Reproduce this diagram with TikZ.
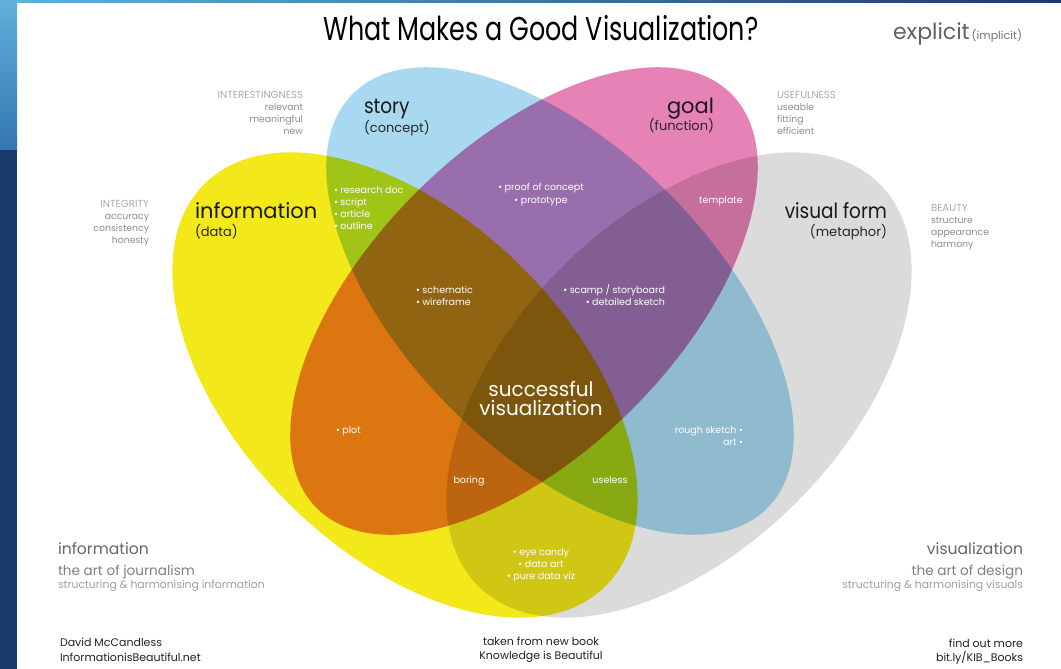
\documentclass[tikz,border=0pt]{standalone}
\usepackage{fontspec}
\setmainfont{Poppins}
\newfontfamily\titlefont{Poppins}[FakeStretch=0.77]
\newfontfamily\narrowfont{Poppins}[FakeStretch=0.88]
\newcommand{\fs}[1]{\fontsize{#1}{#1}\selectfont}
\definecolor{infoYellow}{RGB}{243,232,25}
\definecolor{storyBlue}{RGB}{168,217,241}
\definecolor{goalPink}{RGB}{231,130,182}
\definecolor{formGray}{RGB}{219,219,219}
\definecolor{frameLight}{RGB}{96,176,220}
\definecolor{frameMid}{RGB}{52,118,176}
\definecolor{frameNavy}{RGB}{26,58,106}
\definecolor{capGray}{RGB}{170,170,170}
\definecolor{sideGray}{RGB}{140,140,140}
\definecolor{footDark}{RGB}{34,34,34}
\begin{document}
\begin{tikzpicture}[x=1pt,y=-1pt,
  every node/.style={inner sep=0pt,outer sep=0pt},
  inlabel/.style={text=white,font=\fs{9.5}},
  sidecap/.style={text=capGray,font=\fs{10.2}},
  sideword/.style={text=sideGray,font=\fs{9.3}},
  setname/.style={text=black!90,font=\fs{21}},
  setsub/.style={text=black!85,font=\fs{13}},
  artname/.style={text=black!60,font=\fs{15.6}},
  artof/.style={text=black!50,font=\fs{13.6}},
  artdesc/.style={text=black!38,font=\fs{10.8}},
  footer/.style={text=footDark,font=\fs{11}}]
\useasboundingbox (0,0) rectangle (1061,669);

% page and frame
\fill[white] (0,0) rectangle (1061,669);
\shade[top color=frameLight,bottom color=frameMid] (0,0) rectangle (17,150);
\fill[frameNavy] (0,150) rectangle (17,669);
\shade[left color=frameLight,right color=frameNavy] (17,0) rectangle (1061,3);

% the four sets, overprinted
\begin{scope}[blend mode=multiply]
  \fill[infoYellow,rotate around={-45:(405,385)}] (405,385) ellipse [x radius=284,y radius=166];
  \fill[formGray,rotate around={45:(679,385)}] (679,385) ellipse [x radius=284,y radius=166];
  \fill[storyBlue,rotate around={-45:(560,301)}] (560,301) ellipse [x radius=293,y radius=153];
  \fill[goalPink,rotate around={45:(524,301)}] (524,301) ellipse [x radius=293,y radius=153];
\end{scope}

% title
\node[anchor=base,font=\titlefont\fs{33}] (title) at (541,41) {What Makes a Good Visualization?};
\node[anchor=base east,text=black!55,font=\fs{11}] (implicit) at (1022,40) {(implicit)};
\node[anchor=base east,text=black!62,font=\fs{22}] (explicit) at ([xshift=-2pt]implicit.base west) {explicit};

% qualities around the sets
\node[sidecap,anchor=base east] (interest) at (303,98.3) {INTERESTINGNESS};
\node[sideword,anchor=base east] (relevant) at (303,110.5) {relevant};
\node[sideword,anchor=base east] (meaningful) at (303,122.5) {meaningful};
\node[sideword,anchor=base east] (new) at (303,134.5) {new};

\node[sidecap,anchor=base east] (integrity) at (149,207.5) {INTEGRITY};
\node[sideword,anchor=base east] (accuracy) at (149,219.5) {accuracy};
\node[sideword,anchor=base east] (consistency) at (149,231.5) {consistency};
\node[sideword,anchor=base east] (honesty) at (149,243.5) {honesty};

\node[sidecap,anchor=base west] (usefulness) at (777,98.3) {USEFULNESS};
\node[sideword,anchor=base west] (useable) at (777,110.5) {useable};
\node[sideword,anchor=base west] (fitting) at (777,122.5) {fitting};
\node[sideword,anchor=base west] (efficient) at (777,134.5) {efficient};

\node[sidecap,anchor=base west] (beauty) at (931,211.5) {BEAUTY};
\node[sideword,anchor=base west] (structure) at (931,223.5) {structure};
\node[sideword,anchor=base west] (appearance) at (931,235.5) {appearance};
\node[sideword,anchor=base west] (harmony) at (931,247.5) {harmony};

% set names
\node[setname,anchor=base west] (information) at (195,218.3) {information};
\node[setsub,anchor=base west] (data) at (195,236.5) {(data)};
\node[setname,anchor=base west,font=\narrowfont\fs{21}] (story) at (364,113.5) {story};
\node[setsub,anchor=base west] (concept) at (364,132) {(concept)};
\node[setname,anchor=base east] (goal) at (714,113.5) {goal};
\node[setsub,anchor=base east] (function) at (714,131) {(function)};
\node[setname,anchor=base east,font=\narrowfont\fs{21}] (visualform) at (887,218.3) {visual form};
\node[setsub,anchor=base east] (metaphor) at (887,236.5) {(metaphor)};

% overlaps
\node[inlabel,anchor=base west] (research) at (334,193.3) {• research doc};
\node[inlabel,anchor=base west] (script) at (334,205.5) {• script};
\node[inlabel,anchor=base west] (article) at (334,217.7) {• article};
\node[inlabel,anchor=base west] (outline) at (334,229.9) {• outline};

\node[inlabel,anchor=base] (proof) at (541,190.5) {• proof of concept};
\node[inlabel,anchor=base] (prototype) at (541,203) {• prototype};
\node[inlabel,anchor=base] (template) at (721,203) {template};

\node[inlabel,anchor=base west] (schematic) at (416,293) {• schematic};
\node[inlabel,anchor=base west] (wireframe) at (416,305.5) {• wireframe};
\node[inlabel,anchor=base east] (scamp) at (665,293) {• scamp / storyboard};
\node[inlabel,anchor=base east] (sketch) at (665,305.5) {• detailed sketch};

\node[anchor=base,text=white,font=\fs{20}] (successful) at (541,396) {successful};
\node[anchor=base,text=white,font=\fs{20}] (visualization) at (541,415) {visualization};

\node[inlabel,anchor=base west] (plot) at (336,433) {• plot};
\node[inlabel,anchor=base east] (rough) at (743,433) {rough sketch •};
\node[inlabel,anchor=base east] (art) at (743,445.5) {art •};
\node[inlabel,anchor=base] (boring) at (469,483) {boring};
\node[inlabel,anchor=base] (useless) at (610,483) {useless};

\node[inlabel,anchor=base] (eyecandy) at (541,555.5) {• eye candy};
\node[inlabel,anchor=base] (dataart) at (541,567.5) {• data art};
\node[inlabel,anchor=base] (puredata) at (541,579.5) {• pure data viz};

% the two disciplines
\node[artname,anchor=base west] (journalism) at (58,554.3) {information};
\node[artof,anchor=base west] (artjournal) at (58,575) {the art of journalism};
\node[artdesc,anchor=base west] (structinfo) at (58,588.3) {structuring \& harmonising information};
\node[artname,anchor=base east] (design) at (1023,554.3) {visualization};
\node[artof,anchor=base east] (artdesign) at (1023,575) {the art of design};
\node[artdesc,anchor=base east] (structvis) at (1023,588.3) {structuring \& harmonising visuals};

% credits
\node[footer,anchor=base west] (author) at (60,646.7) {David McCandless};
\node[footer,anchor=base west] (site) at (60,661) {InformationisBeautiful.net};
\node[footer,anchor=base] (taken) at (541,645) {taken from new book};
\node[footer,anchor=base] (book) at (541,659.3) {Knowledge is Beautiful};
\node[footer,anchor=base east] (findout) at (1023,647.3) {find out more};
\node[footer,anchor=base east] (link) at (1023,661) {bit.ly/KIB\_Books};
\end{tikzpicture}
\end{document}
